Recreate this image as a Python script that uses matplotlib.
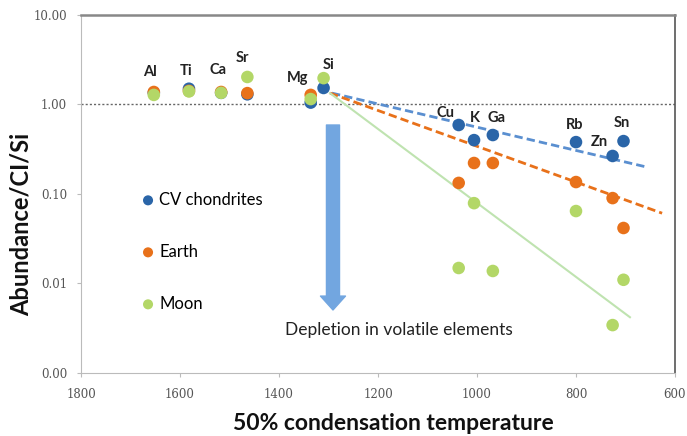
import numpy as np
import matplotlib
matplotlib.use('Agg')
import matplotlib.pyplot as plt

# 50% condensation temperatures (K) and element names
elements = ['Al', 'Ti', 'Ca', 'Sr', 'Mg', 'Si', 'Cu', 'K', 'Ga', 'Rb', 'Zn', 'Sn']
temps = [1653, 1582, 1517, 1464, 1336, 1310, 1037, 1006, 968, 800, 726, 704]

# abundances normalised to CI and Si
cv_vals = [1.35, 1.50, 1.35, 1.30, 1.05, 1.53, 0.59, 0.40, 0.456, 0.38, 0.266, 0.39]
earth_vals = [1.38, 1.42, 1.38, 1.34, 1.28, None, 0.133, 0.222, 0.222, 0.136, 0.090, 0.0417]
moon_vals = [1.28, 1.40, 1.35, 2.03, 1.15, 1.97, 0.0149, 0.079, 0.0138, 0.0645, 0.00343, 0.011]

# trend lines (end points)
cv_trend_T = [1293, 657]
cv_trend = [1.34, 0.20]
earth_trend_T = [1297, 626]
earth_trend = [1.34, 0.061]
moon_trend_T = [1297, 691]
moon_trend = [1.34, 0.0042]

x_ticks = [1800, 1600, 1400, 1200, 1000, 800, 600]
y_ticks = [0.001, 0.01, 0.1, 1, 10]
y_ticklabels = ['0.00', '0.01', '0.10', '1.00', '10.00']

c_blue = '#2a65a8'
c_orange = '#e8711a'
c_green = '#b3d767'

plt.rcParams['font.family'] = ['Lato', 'DejaVu Sans']

fig = plt.figure(figsize=(6.87, 4.36), dpi=100)
ax = fig.add_axes([0.118, 0.1445, 0.8645, 0.8211])

ax.set_yscale('log')
ax.set_xlim(1800, 600)
ax.set_ylim(0.001, 10)

# reference line at 1
ax.axhline(1.0, color='#666666', lw=1.0, ls=(0, (1.5, 1.5)), zorder=1)

# trend lines
ax.plot(cv_trend_T, cv_trend, color='#5a8fd0', lw=2.0, ls=(0, (3, 1.5)), zorder=2)
ax.plot(earth_trend_T, earth_trend, color=c_orange, lw=2.0, ls=(0, (3, 1.5)), zorder=2)
ax.plot(moon_trend_T, moon_trend, color='#bfe3b0', lw=1.5, zorder=2)

def pts(vals):
    t = [temps[i] for i, v in enumerate(vals) if v is not None]
    v = [v for v in vals if v is not None]
    return t, v

ms = 82
t, v = pts(cv_vals)
ax.scatter(t, v, s=ms, color=c_blue, edgecolors='none', label='CV chondrites', zorder=3)
t, v = pts(earth_vals)
ax.scatter(t, v, s=ms, color=c_orange, edgecolors='none', label='Earth', zorder=4)
t, v = pts(moon_vals)
ax.scatter(t, v, s=ms, color=c_green, edgecolors='none', label='Moon', zorder=5)

# element labels, offsets in pixels from the anchor point
label_off = {'Al': (-4, 20), 'Ti': (-3, 20), 'Ca': (-3, 22), 'Sr': (-5, 19),
             'Mg': (-13, 17), 'Si': (5, 13), 'Cu': (-13, 12), 'K': (1, 22),
             'Ga': (4, 17), 'Rb': (-1, 17), 'Zn': (-13, 14), 'Sn': (-2, 18)}
anchor = {'Al': earth_vals[0], 'Ti': moon_vals[1], 'Ca': earth_vals[2], 'Sr': moon_vals[3],
          'Mg': earth_vals[4], 'Si': moon_vals[5]}
for i, el in enumerate(elements):
    yv = anchor.get(el, cv_vals[i])
    ax.annotate(el, (temps[i], yv), xytext=label_off[el], textcoords='offset pixels',
                ha='center', va='center', fontsize=10.5, fontweight='bold', color='#222222', zorder=6)

# depletion arrow
ax.annotate('', xy=(1291, 0.00506), xytext=(1291, 0.59),
            arrowprops=dict(arrowstyle='simple,head_width=0.9,head_length=0.5,tail_width=0.47',
                            mutation_scale=20, color='#72a6e0', shrinkA=0, shrinkB=0), zorder=2)
ax.text(1158, 0.0030, 'Depletion in volatile elements', ha='center', va='center',
        fontsize=12.5, color='#222222')

ax.set_xticks(x_ticks)
ax.set_xticklabels([str(x) for x in x_ticks], fontsize=8.5, color='#555555', family='DejaVu Serif')
ax.set_yticks(y_ticks)
ax.set_yticklabels(y_ticklabels, fontsize=8.5, color='#555555', family='DejaVu Serif')
ax.minorticks_off()
ax.tick_params(axis='x', length=3, color='#bbbbbb', width=0.8, pad=8)
ax.tick_params(axis='y', length=3, color='#bbbbbb', width=0.8, pad=7)

ax.spines['left'].set_color('#bbbbbb')
ax.spines['bottom'].set_color('#bbbbbb')
ax.spines['top'].set_color('#888888')
ax.spines['top'].set_linewidth(1.8)
ax.spines['right'].set_color('#555555')
ax.spines['right'].set_linewidth(1.2)

fig.text(393 / 687, 1 - 423 / 436, '50% condensation temperature', ha='center', va='center',
         fontsize=16.5, fontweight='bold', color='#111111')
fig.text(21 / 687, 1 - 224 / 436, 'Abundance/CI/Si', ha='center', va='center', rotation=90,
         fontsize=17, fontweight='bold', color='#111111')

ax.legend(loc='upper left', bbox_to_anchor=(0.0875, 0.525), frameon=False, fontsize=12,
          labelspacing=2.16, markerscale=0.8, handlelength=1.0, handletextpad=0.16,
          borderaxespad=0)

fig.savefig('out.png', dpi=100)
